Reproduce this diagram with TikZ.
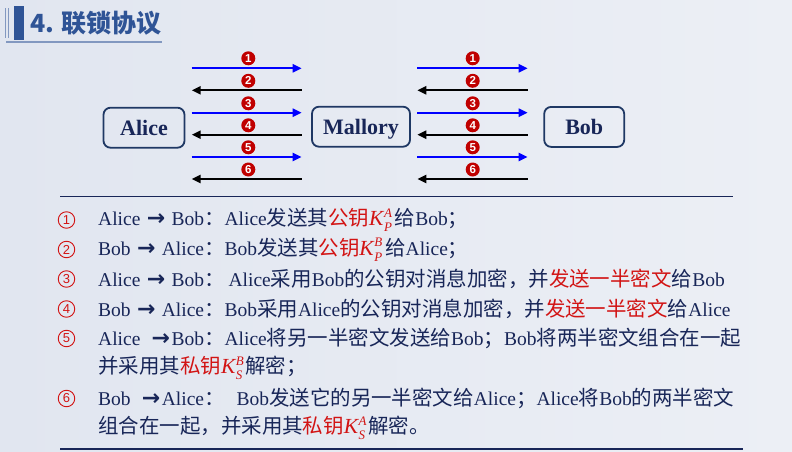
\documentclass[tikz,border=0pt]{standalone}
\usepackage{fontspec}
\setmainfont{Liberation Serif}
\newfontfamily\cjk[Scale=1.05]{Noto Sans CJK SC}
\newfontfamily\cjktitle{Noto Sans CJK SC}
\newfontfamily\dejavu{DejaVu Sans}
\newfontfamily\lsans{Liberation Sans}
\usetikzlibrary{arrows.meta}
\definecolor{bgA}{RGB}{225,230,240}
\definecolor{bgB}{RGB}{236,239,245}
\definecolor{navy}{RGB}{24,38,88}
\definecolor{titleblue}{RGB}{47,84,150}
\definecolor{boxline}{RGB}{31,56,100}
\definecolor{myred}{RGB}{210,20,20}
\definecolor{numred}{RGB}{192,0,0}
\definecolor{pureblue}{RGB}{0,0,255}
\newcommand{\zh}[1]{{\cjk #1}}
\newcommand{\rd}[1]{{\color{myred}#1}}
\newcommand{\arr}{\kern1.5pt{\dejavu\bfseries\fontsize{22}{22}\selectfont →}\kern1.5pt}
\newcommand{\Kss}[2]{{\itshape{\fontsize{21.5}{21.5}\selectfont K}\kern0.5pt\makebox[0pt][l]{\raisebox{8.5pt}{\fontsize{13}{13}\selectfont #2}}\raisebox{-6pt}{\fontsize{13}{13}\selectfont #1}\kern3pt}}
\begin{document}
\begin{tikzpicture}[x=1pt,y=-1pt,
  party/.style={draw=boxline,line width=1.8pt,rounded corners=7pt,minimum height=40pt,
    font=\fontsize{22}{22}\selectfont\bfseries,text=navy,inner sep=0pt,text depth=0pt},
  fwd/.style={pureblue,line width=2.2pt,-{Triangle[length=9pt,width=8pt]}},
  bwd/.style={black,line width=2.2pt,-{Triangle[length=9pt,width=8pt]}},
  stepnum/.style={circle,fill=numred,text=white,inner sep=0pt,minimum size=14pt,
    font=\lsans\bfseries\fontsize{11.5}{11.5}\selectfont},
  listnum/.style={circle,draw=myred,line width=0.9pt,text=myred,inner sep=0pt,minimum size=16.5pt,
    font=\lsans\fontsize{13}{13}\selectfont},
  rowtext/.style={anchor=west,inner sep=0pt,text=navy,font=\fontsize{19.5}{19.5}\selectfont},
  rule/.style={draw=navy,line width=1.3pt}]
\useasboundingbox (0,0) rectangle (792,452);
\shade[left color=bgA,right color=bgB] (0,0) rectangle (792,452);
% title
\fill[titleblue!60] (4.8,8) rectangle (5.9,38);
\fill[titleblue!60] (8.2,8) rectangle (9.3,38);
\fill[titleblue] (13.5,6) rectangle (24,40);
\draw[titleblue!60,line width=1.4pt] (6,42) -- (162,42);
\node[anchor=west,inner sep=0pt,text=titleblue,font=\cjktitle\bfseries\fontsize{25}{25}\selectfont] (title) at (30,23) {4. 联锁协议};
% parties
\node[party,minimum width=81pt] (alice) at (144,127.7) {Alice};
\node[party,minimum width=98pt] (mallory) at (361,126.7) {Mallory};
\node[party,minimum width=80pt] (bob) at (584.2,126.9) {Bob};
% arrows
\foreach \k/\y in {1/68.3,2/90.3,3/112.7,4/134.7,5/157,6/179}{
  \coordinate (l\k a) at (191.7,\y);
  \coordinate (l\k b) at (301.7,\y);
  \coordinate (r\k a) at (417.3,\y);
  \coordinate (r\k b) at (527.7,\y);
}
\foreach \k in {1,3,5}{
  \draw[fwd] (l\k a) -- (l\k b);
  \draw[fwd] (r\k a) -- (r\k b);
}
\foreach \k in {2,4,6}{
  \draw[bwd] (l\k b) -- (l\k a);
  \draw[bwd] (r\k b) -- (r\k a);
}
\foreach \k/\y in {1/58.3,2/80.8,3/103.3,4/125.3,5/147.3,6/169.5}{
  \node[stepnum] (ln\k) at (248.3,\y) {\k};
  \node[stepnum] (rn\k) at (472.7,\y) {\k};
}
% rules
\coordinate (t1) at (60,196.7); \coordinate (t2) at (733,196.7);
\draw[rule] (t1) -- (t2);
\coordinate (b1) at (60,449); \coordinate (b2) at (743,449);
\draw[rule] (b1) -- (b2);
% list
\foreach \k/\y in {1/220,2/249.5,3/279,4/309,5/338.5,6/398.5}{
  \node[listnum] (c\k) at (66.5,\y) {\k};
}
\node[rowtext] (row1) at (98,220) {Alice \arr{} Bob\zh{：}Alice\zh{发送其}\rd{\zh{公钥}\Kss{P}{A}}\zh{给}Bob\zh{；}};
\node[rowtext] (row2) at (98,249.5) {Bob \arr{} Alice\zh{：}Bob\zh{发送其}\rd{\zh{公钥}\Kss{P}{B}}\zh{给}Alice\zh{；}};
\node[rowtext] (row3) at (98,279) {Alice \arr{} Bob\zh{：}\kern4pt Alice\zh{采用}Bob\zh{的公钥对消息加密，并}\rd{\zh{发送一半密文}}\zh{给}Bob};
\node[rowtext] (row4) at (98,309) {Bob \arr{} Alice\zh{：}Bob\zh{采用}Alice\zh{的公钥对消息加密，并}\rd{\zh{发送一半密文}}\zh{给}Alice};
\node[rowtext] (row5) at (98,338.5) {Alice\ \ \arr{}Bob\zh{：}Alice\zh{将另一半密文发送给}Bob\zh{；}Bob\zh{将两半密文组合在一起}};
\node[rowtext] (row5b) at (98,368) {\zh{并采用其}\rd{\zh{私钥}\Kss{S}{B}}\zh{解密；}};
\node[rowtext] (row6) at (98,398.5) {Bob\ \ \arr{}Alice\zh{：}\kern12pt Bob\zh{发送它的另一半密文给}Alice\zh{；}Alice\zh{将}Bob\zh{的两半密文}};
\node[rowtext] (row6b) at (98,428) {\zh{组合在一起，并采用其}\rd{\zh{私钥}\Kss{S}{A}}\zh{解密。}};
\end{tikzpicture}
\end{document}
